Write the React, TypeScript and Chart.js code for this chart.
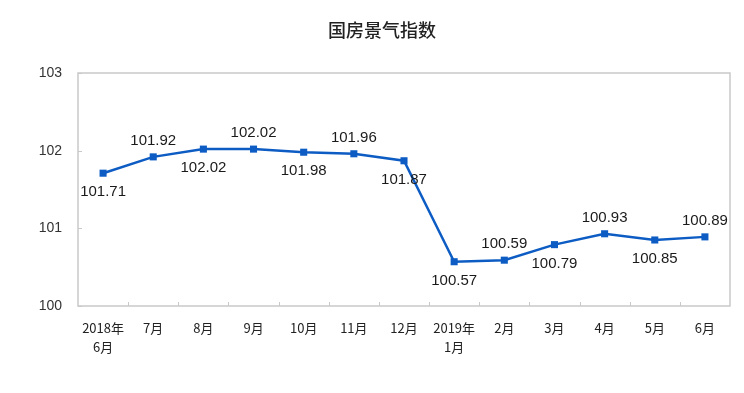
import React, { useEffect, useRef } from "react";
import { Chart, registerables } from "chart.js";

Chart.register(...registerables);

const titleText = "国房景气指数";
const categories: string[][] = [
  ["2018年", "6月"], ["7月"], ["8月"], ["9月"], ["10月"], ["11月"], ["12月"],
  ["2019年", "1月"], ["2月"], ["3月"], ["4月"], ["5月"], ["6月"],
];
const values = [101.71, 101.92, 102.02, 102.02, 101.98, 101.96, 101.87, 100.57, 100.59, 100.79, 100.93, 100.85, 100.89];
const labelSide = ["below", "above", "below", "above", "below", "above", "below", "below", "above", "below", "above", "below", "above"];
const yTicks = [100, 101, 102, 103];

const lineColor = "#0D5CC4";

export default function App() {
  const ref = useRef<HTMLCanvasElement | null>(null);
  useEffect(() => {
    document.body.style.margin = "0";
    const canvas = ref.current!;
    const framePlugin = {
      id: "framePlugin",
      beforeDatasetsDraw(chart: any) {
        const { ctx, chartArea } = chart;
        const { left, right, top, bottom } = chartArea;
        ctx.save();
        ctx.strokeStyle = "#c9c9c9";
        ctx.lineWidth = 1.5;
        ctx.strokeRect(left, top, right - left, bottom - top);
        const xs = chart.scales.x;
        ctx.lineWidth = 1;
        ctx.beginPath();
        for (let i = 1; i < categories.length; i++) {
          const px = Math.round((xs.getPixelForValue(i - 1) + xs.getPixelForValue(i)) / 2) + 0.5;
          ctx.moveTo(px, bottom);
          ctx.lineTo(px, bottom - 4);
        }
        const ys = chart.scales.y;
        yTicks.forEach((v) => {
          const py = Math.round(ys.getPixelForValue(v)) + 0.5;
          ctx.moveTo(left, py);
          ctx.lineTo(left + 4, py);
        });
        ctx.stroke();
        ctx.restore();
      },
      afterDatasetsDraw(chart: any) {
        const { ctx } = chart;
        const meta = chart.getDatasetMeta(0);
        ctx.save();
        ctx.font = "15px 'Liberation Sans', Arial, sans-serif";
        ctx.fillStyle = "#1a1a1a";
        ctx.textAlign = "center";
        ctx.textBaseline = "middle";
        meta.data.forEach((pt: any, i: number) => {
          const dy = labelSide[i] === "above" ? -16 : 19;
          ctx.fillText(values[i].toFixed(2), pt.x, pt.y + dy);
        });
        ctx.font = "500 18px 'Noto Sans CJK SC', sans-serif";
        ctx.fillStyle = "#222";
        ctx.fillText(titleText, 382, 30);
        ctx.restore();
      },
    };
    const chart = new Chart(canvas, {
      type: "line",
      data: {
        labels: categories,
        datasets: [
          {
            data: values,
            borderColor: lineColor,
            backgroundColor: lineColor,
            borderWidth: 2.5,
            pointStyle: "rect",
            pointRadius: 5,
            pointBorderWidth: 0,
            tension: 0,
          },
        ],
      },
      options: {
        animation: false,
        responsive: false,
        events: [],
        layout: { padding: { top: 73, right: 14, left: 0, bottom: 0 } },
        plugins: { legend: { display: false }, title: { display: false }, tooltip: { enabled: false } },
        scales: {
          x: {
            offset: true,
            grid: { display: false },
            border: { display: false },
            ticks: {
              color: "#222",
              font: { size: 13, family: "'Noto Sans CJK SC', sans-serif", lineHeight: 1.45 },
              padding: 5,
              maxRotation: 0,
              autoSkip: false,
            },
            afterFit: (s: any) => { s.height = 87; },
          },
          y: {
            min: 100,
            max: 103,
            grid: { display: false },
            border: { display: false },
            ticks: {
              stepSize: 1,
              color: "#333",
              font: { size: 14, family: "'Liberation Sans', Arial, sans-serif" },
              padding: 8,
            },
            afterFit: (s: any) => { s.width = 78; },
          },
        },
      },
      plugins: [framePlugin],
    });
    return () => chart.destroy();
  }, []);
  return (
    <div style={{ width: 744, height: 393, background: "#fff" }}>
      <canvas ref={ref} width={744} height={393} />
    </div>
  );
}
